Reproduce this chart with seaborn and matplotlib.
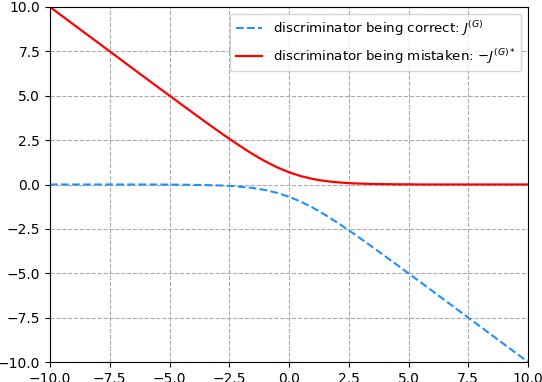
import matplotlib
matplotlib.use("Agg")
import matplotlib.pyplot as plt
import seaborn as sns

# valores
x = [-10, -9.5, -9, -8.5, -8, -7.5, -7, -6.5, -6, -5.5, -5, -4.5, -4, -3.5, -3,
     -2.75, -2.5, -2.25, -2, -1.75, -1.5, -1.25, -1, -0.75, -0.5, -0.25, 0,
     0.25, 0.5, 0.75, 1, 1.25, 1.5, 1.75, 2, 2.25, 2.5, 2.75,
     3, 3.5, 4, 4.5, 5, 5.5, 6, 6.5, 7, 7.5, 8, 8.5, 9, 9.5, 10]

correto = [0.00, 0.00, 0.00, 0.00, 0.00, 0.00, 0.00, 0.00, 0.00, 0.00, -0.01, -0.01, -0.02, -0.03, -0.05,
           -0.06, -0.08, -0.10, -0.13, -0.16, -0.20, -0.25, -0.31, -0.39, -0.47, -0.58, -0.69,
           -0.83, -0.97, -1.14, -1.31, -1.50, -1.70, -1.91, -2.13, -2.35, -2.58, -2.81,
           -3.05, -3.53, -4.02, -4.51, -5.01, -5.50, -6.00, -6.50, -7.00, -7.50, -8.00, -8.50, -9.00, -9.50, -10.00]

enganado = [10.00, 9.50, 9.00, 8.50, 8.00, 7.50, 7.00, 6.50, 6.00, 5.50, 5.01, 4.51, 4.02, 3.53, 3.05,
            2.81, 2.58, 2.35, 2.13, 1.91, 1.70, 1.50, 1.31, 1.14, 0.97, 0.83, 0.69,
            0.58, 0.47, 0.39, 0.31, 0.25, 0.20, 0.16, 0.13, 0.10, 0.08, 0.06,
            0.05, 0.03, 0.02, 0.01, 0.01, 0.00, 0.00, 0.00, 0.00, 0.00, 0.00, 0.00, 0.00, 0.00, 0.00]

fig = plt.figure(figsize=(5.42, 3.82), dpi=100)
ax = fig.add_axes([50 / 542, 20 / 382, 478 / 542, 355 / 382])

sns.lineplot(x=x, y=correto, ax=ax, color="dodgerblue", linestyle="--",
             label="discriminator being correct: $J^{(G)}$")
sns.lineplot(x=x, y=enganado, ax=ax, color="red", linewidth=1.6,
             label="discriminator being mistaken: $-J^{(G)*}$")

ax.set_xlim(-10, 10)
ax.set_ylim(-10, 10)
ax.grid(True, linestyle="--", color="#aaaaaa")
ax.legend(loc="upper right", fontsize=9.6, labelspacing=0.7)

fig.savefig("out.png", dpi=100)
